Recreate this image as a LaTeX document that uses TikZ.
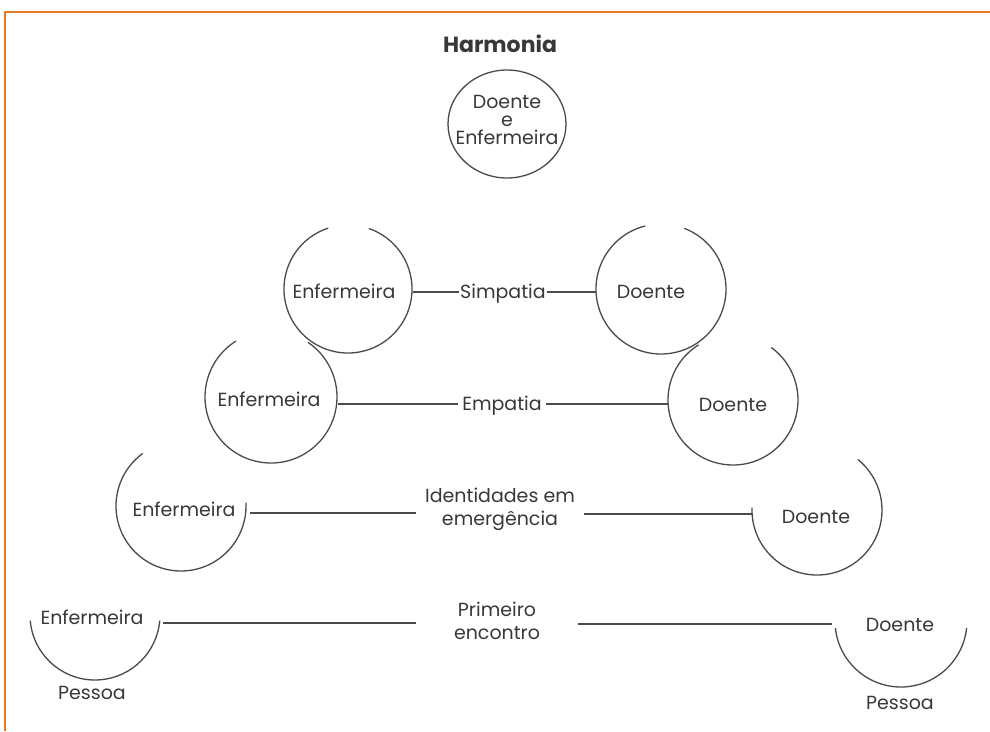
\documentclass[tikz,border=0pt]{standalone}
\usepackage{fontspec}
\setmainfont{Poppins}
\usetikzlibrary{shapes.geometric}
\definecolor{ink}{HTML}{383838}
\definecolor{lineg}{HTML}{4A4A4A}
\definecolor{frameor}{HTML}{E8792A}
\begin{document}
\begin{tikzpicture}[x=1pt,y=-1pt,
  lbl/.style={text=ink, font=\fontsize{19}{23}\selectfont, inner sep=0pt, align=center},
  one/.style={lbl, text height=13.3pt, text depth=0pt},
  title/.style={text=ink, font=\fontsize{22}{26}\selectfont\bfseries, inner sep=0pt, text height=15.5pt, text depth=0pt},
  ring/.style={draw=lineg, line width=1.3pt},
  conn/.style={draw=lineg, line width=1.3pt},
  frame/.style={draw=frameor, line width=2pt}]
\useasboundingbox (0,0) rectangle (990,731);
\draw[frame] (5,731) -- (5,12) -- (990,12);

% title and top circle
\node[title] (harm) at (500,45) {Harmonia};
\node[ring, ellipse, minimum width=118pt, minimum height=108pt, inner sep=0pt] (topc) at (507,124) {};
\node[lbl, font=\fontsize{19}{18}\selectfont] (toptxt) at (507,120) {Doente\\e\\Enfermeira};

% level 1 : Simpatia
\coordinate (c1l) at (348,289);
\coordinate (c1r) at (661,289);
\draw[ring] (c1l) ++(108:64pt) arc[start angle=108, end angle=431, radius=64pt];
\draw[ring] (c1r) ++(104:65pt) arc[start angle=104, end angle=429, radius=65pt];
\node[one] (n1) at (344,292) {Enfermeira};
\node[one] (d1) at (651,292) {Doente};
\node[one, inner xsep=1pt] (simp) at (503,292) {Simpatia};
\coordinate (e1a) at (413,292);
\coordinate (e1b) at (596,292);
\draw[conn] (e1a) -- (simp.west);
\draw[conn] (simp.east) -- (e1b);

% level 2 : Empatia
\coordinate (c2l) at (271,397);
\coordinate (c2r) at (733,400);
\draw[ring] (c2l) ++(122:66pt) arc[start angle=122, end angle=416, radius=66pt];
\draw[ring] (c2r) ++(122:65pt) arc[start angle=122, end angle=414, radius=65pt];
\node[one] (n2) at (269,400) {Enfermeira};
\node[one] (d2) at (733,405) {Doente};
\node[one, inner xsep=4pt] (emp) at (502,404) {Empatia};
\coordinate (e2a) at (338,404);
\coordinate (e2b) at (668,404);
\draw[conn] (e2a) -- (emp.west);
\draw[conn] (emp.east) -- (e2b);

% level 3 : Identidades em emergencia
\coordinate (c3l) at (181,506);
\coordinate (c3r) at (817,510);
\draw[ring] (c3l) ++(126:65pt) arc[start angle=126, end angle=363, radius=65pt];
\draw[ring] (c3r) ++(178:65pt) arc[start angle=178, end angle=411, radius=65pt];
\node[one] (n3) at (184,510) {Enfermeira};
\node[one] (d3) at (816,517) {Doente};
\node[lbl, inner xsep=9pt] (iden) at (500,509) {Identidades em\\emergência};
\coordinate (e3a) at (250,513);
\coordinate (e3b) at (752,514);
\draw[conn] (e3a) -- (e3a -| iden.west);
\draw[conn] (e3b -| iden.east) -- (e3b);

% level 4 : Primeiro encontro
\coordinate (c4l) at (95,615);
\coordinate (c4r) at (901,621);
\draw[ring] (c4l) ++(185:65pt) arc[start angle=185, end angle=355, radius=65pt];
\draw[ring] (c4r) ++(186:66pt) arc[start angle=186, end angle=354, radius=66pt];
\node[one] (n4) at (92,618) {Enfermeira};
\node[one] (p4l) at (92,693) {Pessoa};
\node[one] (d4) at (900,625) {Doente};
\node[one] (p4r) at (900,703) {Pessoa};
\node[lbl, inner xsep=38pt] (prim) at (497,621) {Primeiro\\encontro};
\coordinate (e4a) at (163,623);
\coordinate (e4b) at (832,624);
\draw[conn] (e4a) -- (e4a -| prim.west);
\draw[conn] (e4b -| prim.east) -- (e4b);
\end{tikzpicture}
\end{document}
